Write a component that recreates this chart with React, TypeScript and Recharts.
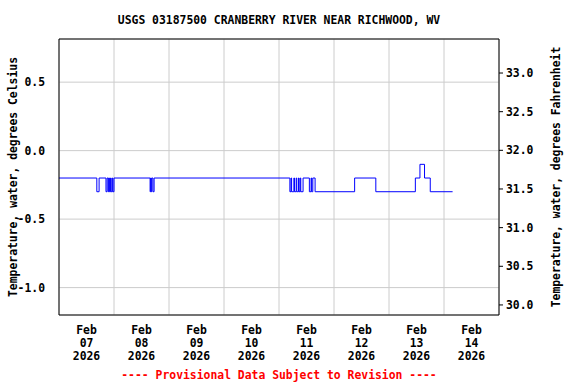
import React from 'react'
import { LineChart, Line, XAxis, YAxis, CartesianGrid } from 'recharts'

// hours since Feb 07 2026 00:00, water temperature (deg C), change points
const hours = [
  0, 16.5, 17.5, 20.5, 21.0, 21.5, 21.75, 22.0, 22.5, 22.75, 23.25, 23.5, 24.0,
  39.75, 40.0, 40.25, 40.5, 41.0, 41.5,
  100.75, 101.25, 101.5, 102.5, 102.75, 103.5, 103.75, 104.5, 104.75, 105.25, 105.5, 106.5,
  109.25, 110.0, 110.25, 110.75, 111.75,
  129.0, 138.25, 155.5, 157.5, 159.5, 162.0, 171.75,
]
const tempC = [
  -0.2, -0.3, -0.2, -0.3, -0.2, -0.3, -0.2, -0.3, -0.2, -0.3, -0.2, -0.3, -0.2,
  -0.3, -0.2, -0.3, -0.2, -0.3, -0.2,
  -0.3, -0.2, -0.3, -0.2, -0.3, -0.2, -0.3, -0.2, -0.3, -0.2, -0.3, -0.2,
  -0.3, -0.2, -0.3, -0.2, -0.3,
  -0.2, -0.3, -0.2, -0.1, -0.2, -0.3, -0.3,
]

const dayLabels = ['07', '08', '09', '10', '11', '12', '13', '14']
const labelHours = [12, 36, 60, 84, 108, 132, 156, 180]
const dayBoundaries = [24, 48, 72, 96, 120, 144, 168]
const celsiusTicks = [0.5, 0.0, -0.5, -1.0]
const fahrenheitTicks = [30.0, 30.5, 31.0, 31.5, 32.0, 32.5, 33.0]

const data = hours.map((h, i) => ({ h, c: tempC[i] }))

const FONT = '"DejaVu Sans Mono", monospace'

const DayTick = (props: any) => {
  const { x, y, payload } = props
  const i = labelHours.indexOf(payload.value)
  if (i < 0) return null
  return (
    <text x={x} y={y} textAnchor="middle" fontFamily={FONT} fontWeight="bold" fontSize={11.4} fill="#000">
      <tspan x={x} y={y + 19}>Feb</tspan>
      <tspan x={x} y={y + 32}>{dayLabels[i]}</tspan>
      <tspan x={x} y={y + 45}>2026</tspan>
    </text>
  )
}

const NoTick = () => <g />

const tickStyle = { fontFamily: FONT, fontWeight: 'bold', fontSize: 11.4, fill: '#000' }

export default function App() {
  return (
    <div style={{ position: 'absolute', left: 0, top: 0, width: 576, height: 384, background: '#fff' }}>
      <div
        style={{
          position: 'absolute', left: 59, width: 440, top: 12, textAlign: 'center',
          fontFamily: FONT, fontWeight: 'bold', fontSize: 11.4, lineHeight: '16px',
        }}
      >
        USGS 03187500 CRANBERRY RIVER NEAR RICHWOOD, WV
      </div>
      <LineChart width={576} height={384} data={data} margin={{ top: 38, right: 0, bottom: 0, left: 0 }}>
        <CartesianGrid xAxisId="days" yAxisId="c" stroke="#cccccc" strokeDasharray="" />
        <XAxis
          xAxisId="days"
          orientation="top"
          type="number"
          dataKey="h"
          domain={[0, 192]}
          ticks={dayBoundaries}
          interval={0}
          tick={<NoTick />}
          tickLine={false}
          tickSize={0}
          height={1}
          axisLine={{ stroke: '#000' }}
        />
        <XAxis
          xAxisId="lab"
          type="number"
          dataKey="h"
          domain={[0, 192]}
          ticks={labelHours}
          interval={0}
          tick={<DayTick />}
          tickLine={false}
          tickSize={0}
          tickMargin={0}
          height={69}
          axisLine={{ stroke: '#000' }}
        />
        <YAxis
          yAxisId="c"
          type="number"
          domain={[-1.2, 0.815]}
          allowDataOverflow
          ticks={celsiusTicks}
          tickFormatter={(v: number) => v.toFixed(1)}
          width={59}
          tickLine={false}
          tickSize={6}
          tickMargin={8}
          axisLine={{ stroke: '#000' }}
          tick={tickStyle}
          label={{
            value: 'Temperature, water, degrees Celsius', angle: -90, position: 'center', dx: -17,
            style: { ...tickStyle, textAnchor: 'middle' },
          }}
        />
        <YAxis
          yAxisId="f"
          orientation="right"
          type="number"
          domain={[29.87, 33.44]}
          allowDataOverflow
          ticks={fahrenheitTicks}
          tickFormatter={(v: number) => v.toFixed(1)}
          width={77}
          tickLine={{ stroke: '#000' }}
          tickSize={4}
          tickMargin={3}
          axisLine={{ stroke: '#000' }}
          tick={tickStyle}
          label={{
            value: 'Temperature, water, degrees Fahrenheit', angle: -90, position: 'center', dx: 18,
            style: { ...tickStyle, textAnchor: 'middle' },
          }}
        />
        <Line
          xAxisId="lab"
          yAxisId="c"
          type="stepAfter"
          dataKey="c"
          stroke="#0000ff"
          strokeWidth={1}
          dot={false}
          isAnimationActive={false}
        />
      </LineChart>
      <div
        style={{
          position: 'absolute', left: 59, width: 440, top: 367, textAlign: 'center',
          fontFamily: FONT, fontWeight: 'bold', fontSize: 11.4, lineHeight: '16px', color: '#ff0000',
        }}
      >
        ---- Provisional Data Subject to Revision ----
      </div>
    </div>
  )
}
